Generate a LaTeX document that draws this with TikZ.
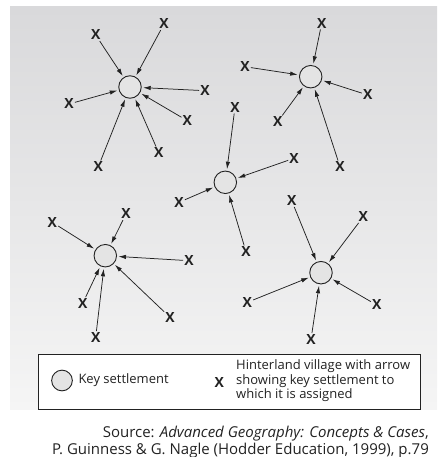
\documentclass[tikz,border=0pt]{standalone}
\usepackage{fontspec}
\setmainfont{Open Sans}
\usetikzlibrary{arrows.meta}
\definecolor{bgtop}{HTML}{D9D9DB}
\definecolor{bgbot}{HTML}{F5F5F5}
\definecolor{settlefill}{HTML}{E4E4E4}
\definecolor{linecol}{HTML}{222222}
\tikzset{
  settle/.style={circle, draw=linecol, fill=settlefill, minimum size=22.5pt, inner sep=0pt, line width=0.9pt},
  vil/.style={font=\bfseries\fontsize{14}{14}\selectfont, inner sep=1pt, text=linecol},
  arr/.style={-{Latex[length=7.5pt,width=4.4pt]}, line width=0.75pt, draw=linecol, shorten >=1.5pt},
  legtext/.style={font=\fontsize{13}{14.6}\selectfont, text=linecol, inner sep=0pt}
}
\begin{document}
\begin{tikzpicture}[x=1pt,y=-1pt]
\useasboundingbox (0,0) rectangle (437,457);
\shade[top color=bgtop, bottom color=bgbot] (10,7) rectangle (437,409);

% settlement 1
\node[settle] (s1) at (130,87) {};
\node[vil] (a1) at (95.7,35) {X};
\node[vil] (a2) at (164,24) {X};
\node[vil] (a3) at (205,90.7) {X};
\node[vil] (a4) at (69,104) {X};
\node[vil] (a5) at (187.3,120.7) {X};
\node[vil] (a6) at (158.7,152.7) {X};
\node[vil] (a7) at (98.3,166.7) {X};
\foreach \v in {a1,a2,a3,a4,a5,a6,a7} \draw[arr] (\v) -- (s1);

% settlement 2
\node[settle] (s2) at (310.7,76.7) {};
\node[vil] (b1) at (321.7,23.3) {X};
\node[vil] (b2) at (245,66.7) {X};
\node[vil] (b3) at (367.7,95) {X};
\node[vil] (b4) at (277.7,121.7) {X};
\node[vil] (b5) at (340,166.7) {X};
\foreach \v in {b1,b2,b3,b4,b5} \draw[arr] (\v) -- (s2);

% settlement 3
\node[settle] (s3) at (225.3,182.3) {};
\node[vil] (c1) at (235,107.3) {X};
\node[vil] (c2) at (294,158.3) {X};
\node[vil] (c3) at (179,202.3) {X};
\node[vil] (c4) at (246,251.7) {X};
\foreach \v in {c1,c2,c3,c4} \draw[arr] (\v) -- (s3);

% settlement 4
\node[settle] (s4) at (105.3,255.7) {};
\node[vil] (d1) at (52.3,222.3) {X};
\node[vil] (d2) at (126,214) {X};
\node[vil] (d3) at (189,260.7) {X};
\node[vil] (d4) at (82.7,303.3) {X};
\node[vil] (d5) at (170,317.3) {X};
\node[vil] (d6) at (95.7,337.3) {X};
\foreach \v in {d1,d2,d3,d4,d5,d6} \draw[arr] (\v) -- (s4);

% settlement 5
\node[settle] (s5) at (321,272.7) {};
\node[vil] (e1) at (291.7,200.7) {X};
\node[vil] (e2) at (363.3,216.7) {X};
\node[vil] (e3) at (247.3,302.3) {X};
\node[vil] (e4) at (376.7,305) {X};
\node[vil] (e5) at (311,339.3) {X};
\foreach \v in {e1,e2,e3,e4,e5} \draw[arr] (\v) -- (s5);

% legend
\draw[draw=linecol, line width=0.8pt, fill=white] (38.3,354.3) rectangle (420,409);
\node[settle, minimum size=20.7pt] (lc) at (62,380.5) {};
\node[legtext, anchor=west] (lk) at (78.3,380.5) {Key settlement};
\node[vil] (lx) at (219.3,382.3) {X};
\node[legtext, anchor=west, align=left] (lv) at (236,380.8) {Hinterland village with arrow\\showing key settlement to\\which it is assigned};

% source
\node[font=\fontsize{15}{17.8}\selectfont, text=linecol, align=right, anchor=east, inner sep=0pt] (src) at (429,442) {Source: \textit{Advanced Geography: Concepts \& Cases},\\P. Guinness \& G. Nagle (Hodder Education, 1999), p.79};
\end{tikzpicture}
\end{document}
